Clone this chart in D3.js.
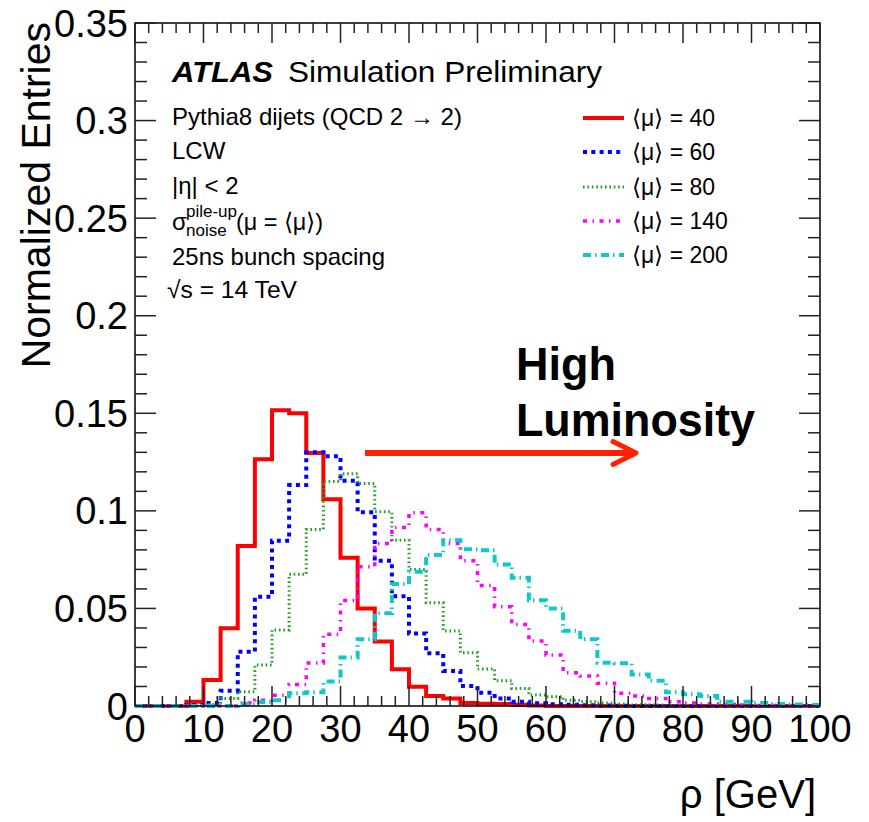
<!DOCTYPE html>
<html>
<head>
<meta charset="utf-8">
<script src="https://cdn.jsdelivr.net/npm/d3@7"></script>
<style>
  html, body { margin: 0; padding: 0; background: #fff; }
  svg { display: block; }
  text { font-family: "Liberation Sans", Arial, sans-serif; fill: #000; }
</style>
</head>
<body>
<svg id="chart" width="869" height="822"></svg>
<script>
// ---- data ----
const binEdges = [0,2.5,5,7.5,10,12.5,15,17.5,20,22.5,25,27.5,30,32.5,35,37.5,40,42.5,45,47.5,50,
  52.5,55,57.5,60,62.5,65,67.5,70,72.5,75,77.5,80,82.5,85,87.5,90,92.5,95,97.5,100];

const mu40  = [0,0,0,0.0022,0.0133,0.0398,0.082,0.1265,0.1516,0.150,0.1297,0.106,0.076,0.050,0.033,0.0188,
  0.0099,0.0051,0.0039,0.0015,0.0012,0.0010,0.0007,0.0003,0,0,0,0,0,0,0,0,0,0,0,0,0,0,0,0];
const mu60  = [0,0,0,0.0005,0.0016,0.0078,0.0278,0.056,0.0847,0.1132,0.130,0.128,0.1154,0.0993,0.0744,0.0563,
  0.0372,0.027,0.0179,0.0102,0.0068,0.0039,0.0022,0.0014,0.0009,0.0006,0.0004,0.0002,0.0001,0,0,0,0,0,0,0,0,0,0,0];
const mu80  = [0,0,0,0,0.0008,0.0038,0.0073,0.021,0.039,0.0675,0.0905,0.115,0.119,0.114,0.0995,0.085,
  0.070,0.0529,0.0384,0.0273,0.019,0.013,0.009,0.0056,0.0048,0.003,0.0022,0.0015,0.001,0.0007,0.0005,0.0003,
  0.0002,0.0001,0,0,0,0,0,0];
const mu140 = [0,0,0,0,0,0,0.0015,0.003,0.0055,0.011,0.022,0.0368,0.054,0.0714,0.0833,0.0915,
  0.099,0.0905,0.0833,0.0744,0.0618,0.0509,0.0418,0.0333,0.0261,0.0171,0.0154,0.0116,0.0065,0.0051,0.0039,0.0022,
  0.0015,0.001,0.0008,0.0005,0.0003,0.0002,0.0001,0];
const mu200 = [0,0,0,0,0,0,0.001,0.002,0.003,0.0065,0.007,0.0125,0.0248,0.0342,0.0475,0.0625,
  0.0688,0.0774,0.085,0.0803,0.0798,0.0725,0.0657,0.0542,0.050,0.0386,0.0342,0.0222,0.0219,0.0162,0.013,0.007,
  0.006,0.0051,0.0022,0.0022,0.0015,0.001,0.0008,0.0005];

const seriesNames = ["\u27E8\u03BC\u27E9 = 40","\u27E8\u03BC\u27E9 = 60","\u27E8\u03BC\u27E9 = 80","\u27E8\u03BC\u27E9 = 140","\u27E8\u03BC\u27E9 = 200"];
const xTickValues = [0,10,20,30,40,50,60,70,80,90,100];
const xTickLabels = ["0","10","20","30","40","50","60","70","80","90","100"];
const yTickValues = [0,0.05,0.1,0.15,0.2,0.25,0.3,0.35];
const yTickLabels = ["0","0.05","0.1","0.15","0.2","0.25","0.3","0.35"];
const infoLines = ["Pythia8 dijets (QCD 2 \u2192 2)","LCW","|\u03B7| < 2","SIGMA","25ns bunch spacing","SQRT"];

// ---- styles ----
const styles = [
  {color:"#ff0000", width:4,   dash:null},
  {color:"#0000ff", width:4,   dash:"4,4.3"},
  {color:"#22a022", width:3,   dash:"1.6,2.8"},
  {color:"#ff00ff", width:3.5, dash:"4,5.5,1.5,5.5"},
  {color:"#10c8c8", width:4,   dash:"8,4,1.5,4.5"}
];
const allSeries = [mu40, mu60, mu80, mu140, mu200];

// ---- layout ----
const L = 135, R = 820, T = 23, B = 706;
const svg = d3.select("#chart");
const x = d3.scaleLinear().domain([0,100]).range([L,R]);
const y = d3.scaleLinear().domain([0,0.35]).range([B,T]);

// histograms
const line = d3.line().x(d => x(d[0])).y(d => y(d[1]));
allSeries.forEach((vals, si) => {
  const pts = [];
  vals.forEach((v, i) => { pts.push([binEdges[i], v]); pts.push([binEdges[i+1], v]); });
  const st = styles[si];
  svg.append("path").attr("d", line(pts))
    .attr("fill","none").attr("stroke", st.color).attr("stroke-width", st.width)
    .attr("stroke-dasharray", st.dash).attr("stroke-linejoin","miter").attr("stroke-linecap","butt");
});

// frame
svg.append("rect").attr("x",L).attr("y",T).attr("width",R-L).attr("height",B-T)
  .attr("fill","none").attr("stroke","#000").attr("stroke-width",1.5);

// ticks
const tickG = svg.append("g").attr("stroke","#222").attr("stroke-width",1.5);
const xMinor = d3.range(0, 100.001, 2);
xMinor.forEach(v => {
  const major = Math.abs(v % 10) < 1e-6;
  const len = major ? 20 : 10;
  tickG.append("line").attr("x1",x(v)).attr("x2",x(v)).attr("y1",B).attr("y2",B-len);
  tickG.append("line").attr("x1",x(v)).attr("x2",x(v)).attr("y1",T).attr("y2",T+len);
});
const yMinor = d3.range(0, 0.3501, 0.01);
yMinor.forEach((v,i) => {
  const major = i % 5 === 0;
  const len = major ? 21 : 12;
  tickG.append("line").attr("x1",L).attr("x2",L+len).attr("y1",y(v)).attr("y2",y(v));
  tickG.append("line").attr("x1",R).attr("x2",R-len).attr("y1",y(v)).attr("y2",y(v));
});

// tick labels
xTickValues.forEach((v,i) => {
  svg.append("text").attr("x",x(v)).attr("y",742).attr("text-anchor","middle")
    .attr("font-size",38).text(xTickLabels[i]);
});
yTickValues.forEach((v,i) => {
  svg.append("text").attr("x",128).attr("y",y(v)+13.5).attr("text-anchor","end")
    .attr("font-size",38).text(yTickLabels[i]);
});

// axis titles
svg.append("text").attr("transform","translate(50,22) rotate(-90)").attr("text-anchor","end")
  .attr("font-size",41).text("Normalized Entries");
svg.append("text").attr("x",816).attr("y",808).attr("text-anchor","end")
  .attr("font-size",40).text("\u03C1 [GeV]");

// ATLAS label
svg.append("text").attr("x",172).attr("y",82).attr("font-size",29)
  .attr("font-weight","bold").attr("font-style","italic")
  .attr("textLength",101).attr("lengthAdjust","spacingAndGlyphs").text("ATLAS");
svg.append("text").attr("x",288).attr("y",82).attr("font-size",29)
  .attr("textLength",314).attr("lengthAdjust","spacingAndGlyphs").text("Simulation Preliminary");

// info lines
const infoY = [125,159,194,230,265,298];
infoLines.forEach((s,i) => {
  if (s === "SIGMA") {
    svg.append("text").attr("x",172).attr("y",infoY[i]).attr("font-size",24).text("\u03C3");
    svg.append("text").attr("x",186).attr("y",infoY[i]-13).attr("font-size",17).text("pile-up");
    svg.append("text").attr("x",186).attr("y",infoY[i]+6).attr("font-size",17).text("noise");
    svg.append("text").attr("x",236).attr("y",infoY[i]).attr("font-size",24)
      .attr("textLength",87).attr("lengthAdjust","spacingAndGlyphs").text("(\u03BC = \u27E8\u03BC\u27E9)");
  } else if (s === "SQRT") {
    svg.append("text").attr("x",167).attr("y",infoY[i]).attr("font-size",24)
      .attr("textLength",130).attr("lengthAdjust","spacingAndGlyphs").text("\u221As = 14 TeV");
  } else {
    const t = svg.append("text").attr("x",172).attr("y",infoY[i]).attr("font-size",24).text(s);
    if (i === 0) t.attr("textLength",290).attr("lengthAdjust","spacingAndGlyphs");
    if (i === 4) t.attr("textLength",213).attr("lengthAdjust","spacingAndGlyphs");
  }
});

// legend
const legY = [118,152,187,221,255];
seriesNames.forEach((name,i) => {
  const st = styles[i];
  svg.append("line").attr("x1",583).attr("x2",624).attr("y1",legY[i]).attr("y2",legY[i])
    .attr("stroke",st.color).attr("stroke-width",st.width).attr("stroke-dasharray",st.dash);
  svg.append("text").attr("x",632).attr("y",legY[i]+8).attr("font-size",23).text(name);
});

// annotation
svg.append("text").attr("x",516).attr("y",380).attr("font-family","Lato, 'DejaVu Sans', sans-serif")
  .attr("font-weight","bold").attr("font-size",46).attr("textLength",100)
  .attr("lengthAdjust","spacingAndGlyphs").text("High");
svg.append("text").attr("x",516).attr("y",436).attr("font-family","Lato, 'DejaVu Sans', sans-serif")
  .attr("font-weight","bold").attr("font-size",46).attr("textLength",239)
  .attr("lengthAdjust","spacingAndGlyphs").text("Luminosity");
const arrowColor = "#ff2200";
svg.append("line").attr("x1",365).attr("x2",634).attr("y1",453).attr("y2",453)
  .attr("stroke",arrowColor).attr("stroke-width",6);
svg.append("path").attr("d","M613,441.5 L636,453 L613,464.5").attr("fill","none")
  .attr("stroke",arrowColor).attr("stroke-width",5).attr("stroke-linecap","round").attr("stroke-linejoin","round");
</script>
</body>
</html>
